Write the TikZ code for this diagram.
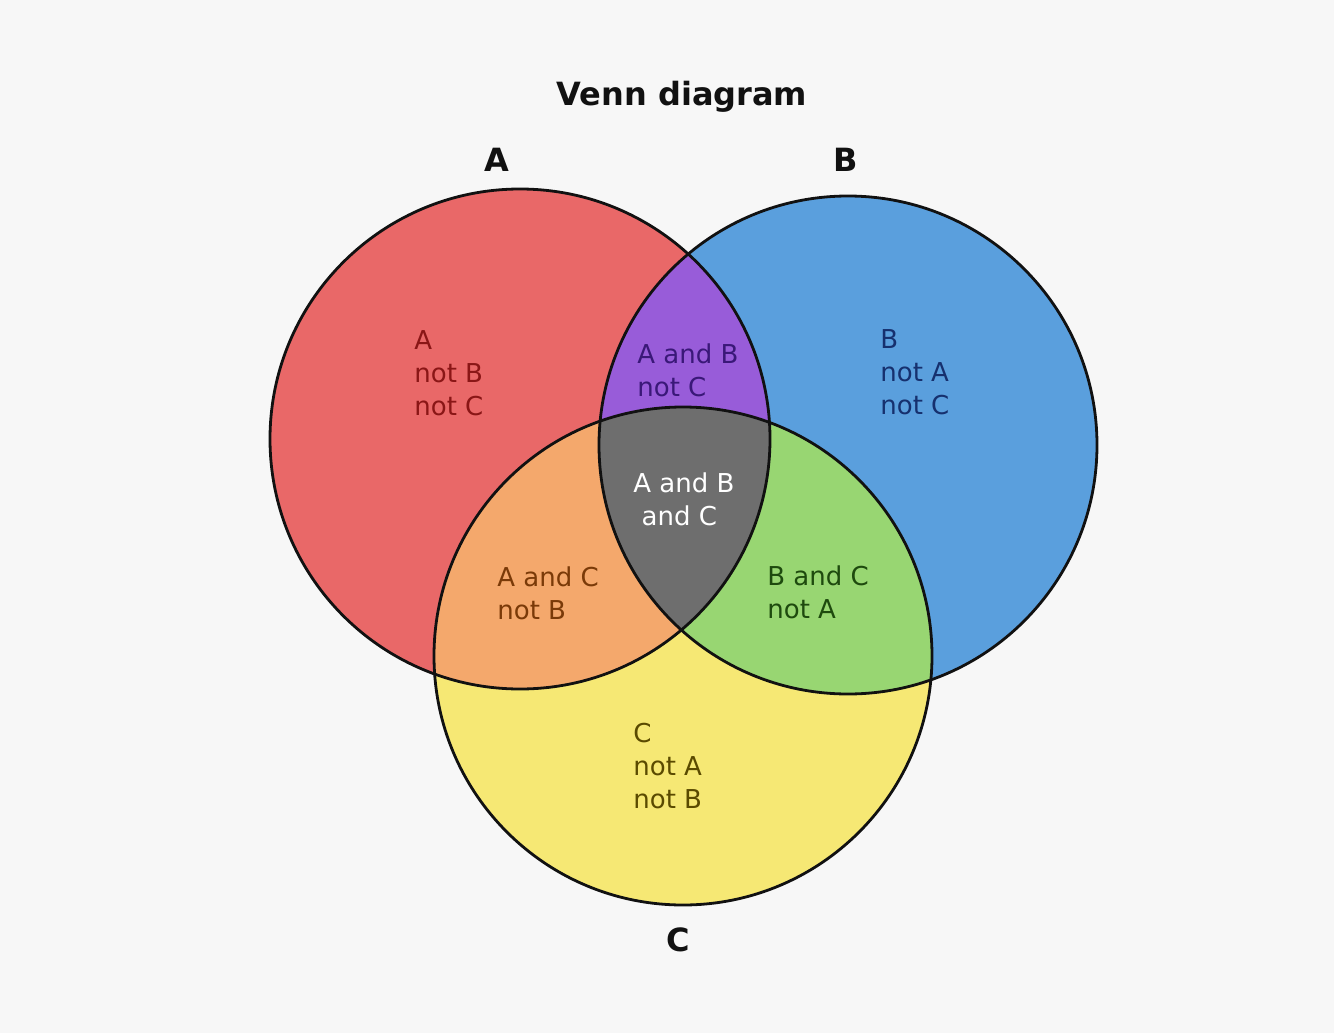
\documentclass[tikz,border=0pt]{standalone}
\usepackage{fontspec}
\setmainfont{DejaVu Sans}
\usetikzlibrary{positioning}
\definecolor{ink}{HTML}{111111}
\definecolor{bgC}{HTML}{F7F7F7}
\definecolor{aC}{HTML}{E96868}
\definecolor{bC}{HTML}{5A9FDD}
\definecolor{cC}{HTML}{F6E874}
\definecolor{abC}{HTML}{985CD9}
\definecolor{acC}{HTML}{F4A86C}
\definecolor{bcC}{HTML}{98D672}
\definecolor{abcC}{HTML}{6E6E6E}
\definecolor{aTxt}{HTML}{8A1616}
\definecolor{bTxt}{HTML}{16306E}
\definecolor{cTxt}{HTML}{5A4A00}
\definecolor{abTxt}{HTML}{3A1878}
\definecolor{acTxt}{HTML}{7A3A08}
\definecolor{bcTxt}{HTML}{1E4A0E}
\tikzset{
  ctitle/.style={font=\fontsize{16}{19}\selectfont\bfseries,text=ink},
  setlab/.style={font=\fontsize{16}{19}\selectfont\bfseries,text=ink},
  reglab/.style={font=\fontsize{13}{16.5}\selectfont,align=left,anchor=west,inner sep=0pt},
  ring/.style={draw=ink,line width=1.4pt}}
\begin{document}
\begin{tikzpicture}[x=0.5pt,y=-0.5pt]
\fill[bgC] (0,0) rectangle (1334,1033);
\useasboundingbox (0,0) rectangle (1334,1033);
\coordinate (cA) at (520,439);
\coordinate (cB) at (848,445);
\coordinate (cC) at (683,656);
% set fills
\fill[aC] (cA) circle[radius=250];
\fill[bC] (cB) circle[radius=249];
\fill[cC] (cC) circle[radius=249];
\begin{scope}
  \clip (cB) circle[radius=249];
  \fill[bcC] (cC) circle[radius=249];
\end{scope}
\begin{scope}
  \clip (cA) circle[radius=250];
  \fill[abC] (cB) circle[radius=249];
  \fill[acC] (cC) circle[radius=249];
  \clip (cB) circle[radius=249];
  \fill[abcC] (cC) circle[radius=249];
\end{scope}
\draw[ring] (cA) circle[radius=250];
\draw[ring] (cB) circle[radius=249];
\draw[ring] (cC) circle[radius=249];
% labels
\node[ctitle] (title) at (682,97) {Venn diagram};
\node[setlab] (labA) at (497,160) {A};
\node[setlab] (labB) at (846,160) {B};
\node[setlab] (labC) at (678,940) {C};
\node[reglab,text=aTxt] (onlyA) at (414,373) {A\\not B\\not C};
\node[reglab,text=abTxt] (onlyAB) at (637,370) {A and B\\not C};
\node[reglab,text=bTxt] (onlyB) at (880,372) {B\\not A\\not C};
\node[reglab,text=white] (allABC) at (633,499) {A and B\\\ and C};
\node[reglab,text=acTxt] (onlyAC) at (497,593) {A and C\\not B};
\node[reglab,text=bcTxt] (onlyBC) at (767,592) {B and C\\not A};
\node[reglab,text=cTxt] (onlyC) at (633,766) {C\\not A\\not B};
\end{tikzpicture}
\end{document}
